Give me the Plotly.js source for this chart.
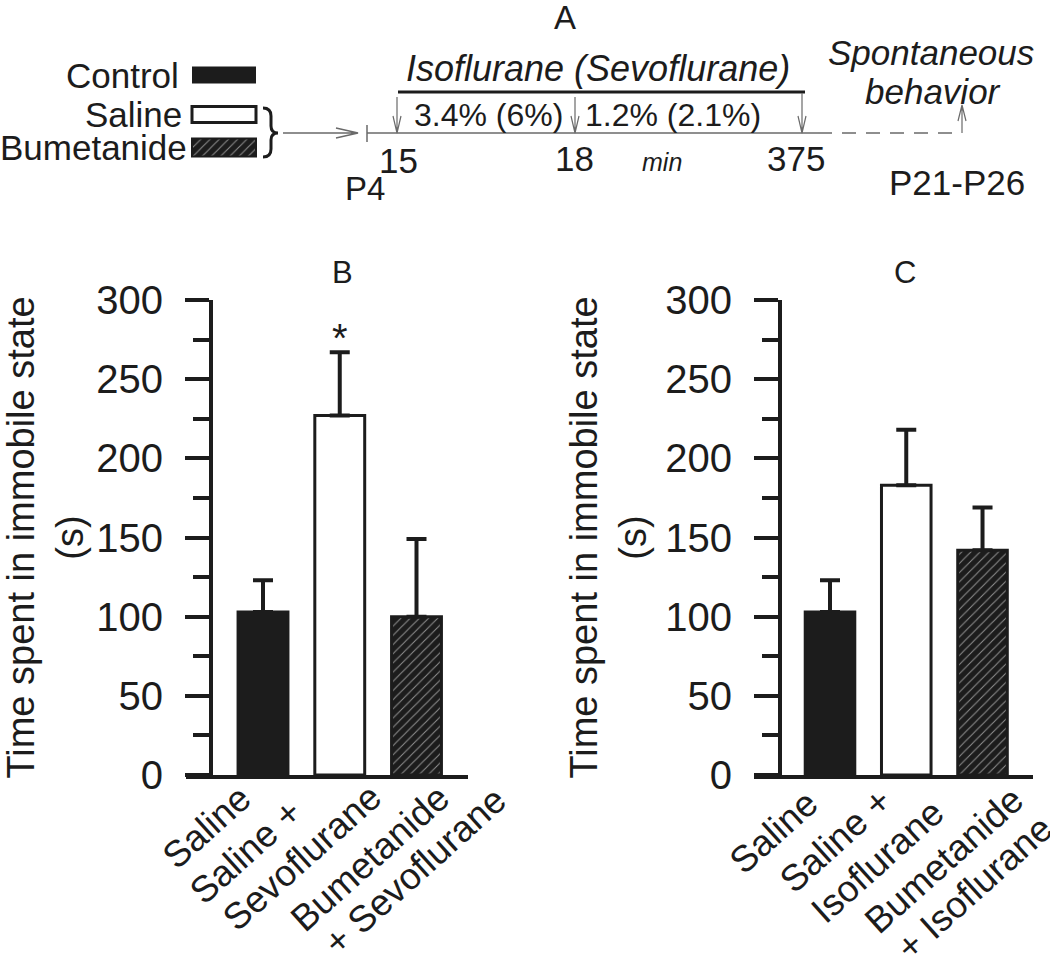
<!DOCTYPE html>
<html><head><meta charset="utf-8">
<script src="https://cdn.plot.ly/plotly-3.0.1.min.js"></script>
<style>html,body{margin:0;padding:0;background:#fff}</style>
</head><body><div id="chart" style="width:1050px;height:960px"></div>
<script>
// ---- data ----
const groupsB = ['Saline', 'Saline +<br>Sevoflurane', 'Bumetanide<br>+ Sevoflurane'];
const meansB = [103, 227, 100];
const semB = [20, 40, 49];
const groupsC = ['Saline', 'Saline +<br>Isoflurane', 'Bumetanide<br>+ Isoflurane'];
const meansC = [103, 183, 142];
const semC = [20, 35, 27];
const yTicks = [0, 50, 100, 150, 200, 250, 300];
const legendLabels = ['Control', 'Saline', 'Bumetanide'];
const timeLabels = ['15', '18', '375'];
const doseLabels = ['3.4% (6%)', '1.2% (2.1%)'];

// ---- layout: centre of each category-label line, px from (tick, axis line) ----
const labelPosB = [[[-57, 52]], [[-94, 76], [-38, 82]], [[-47, 83], [-2, 96]]];
const labelPosC = [[[-57, 57]], [[-71, 65], [-29, 86]], [[-39, 85], [-9, 113]]];

// ---- style ----
const K = '#1c1c1c';
const G = '#6a6a6a';
const FONT = 'Liberation Sans, Arial, sans-serif';
const AXIS_Y = 775, H = 960;
const LABEL_FS = 37, LABEL_ANGLE = 42;
const barColors = [K, '#ffffff', K];
const barPattern = {shape: ['', '', '/'], fillmode: 'overlay', fgcolor: '#ffffff', size: 6.5, solidity: 0.16};

function barTrace(means, sem, xa, ya) {
  return {
    type: 'bar', x: [0, 1, 2], y: means, xaxis: xa, yaxis: ya, width: 0.65,
    marker: {color: barColors, pattern: barPattern, line: {color: K, width: 3}},
    error_y: {type: 'data', array: sem, arrayminus: [0, 0, 0], symmetric: false,
              color: K, thickness: 4, width: 10},
    hoverinfo: 'skip', showlegend: false
  };
}

function yAx(pos) {
  return {
    domain: [1 - 775 / 960, 1 - 300 / 960], range: [0, 300], anchor: 'free', position: pos,
    showline: true, linewidth: 4, linecolor: K, showgrid: false, zeroline: false,
    ticks: 'outside', ticklen: 24, tickwidth: 4, tickcolor: K,
    tickvals: yTicks, ticktext: yTicks.map(String), ticklabelstandoff: 14,
    minor: {dtick: 25, tick0: 0, ticks: 'outside', ticklen: 16, tickwidth: 4, tickcolor: K, showgrid: false},
    tickfont: {family: FONT, size: 40, color: K},
    title: {text: 'Time spent in immobile state<br>(s)', font: {family: FONT, size: 38, color: K}, standoff: 6},
    automargin: false, fixedrange: true
  };
}
function xAx(dom, range, ya) {
  return {
    domain: dom, range: range, anchor: ya, showline: true, linewidth: 4, linecolor: K,
    showgrid: false, zeroline: false, ticks: '', tickvals: [0, 1, 2], showticklabels: false,
    automargin: false, fixedrange: true
  };
}

const traces = [
  barTrace(meansB, semB, 'x', 'y'),
  barTrace(meansC, semC, 'x2', 'y2'),
  // legend swatches in schematic (pixel frame)
  {type: 'bar', orientation: 'h', xaxis: 'x3', yaxis: 'y3',
   y: [75, 114.5, 147.5], x: [64, 64, 64], base: [192, 192, 192], width: [17, 16, 18],
   marker: {color: barColors, pattern: barPattern, line: {color: K, width: [0, 3, 2]}},
   hoverinfo: 'skip', showlegend: false}
];

const ann = [];
function txt(x, y, t, size, opts) {
  ann.push(Object.assign({xref: 'x3', yref: 'y3', x: x, y: y, text: t, showarrow: false,
    font: {family: FONT, size: size, color: K}, xanchor: 'center', yanchor: 'middle'}, opts || {}));
}
// category labels: rotated lines, one annotation per line, centred at its position
function catLabels(groups, pos, xref) {
  groups.forEach(function (g, i) {
    g.split('<br>').forEach(function (line, j) {
      const p = pos[i][j];
      ann.push({xref: xref, yref: 'paper', x: i, y: 1 - (AXIS_Y + p[1]) / H, xshift: p[0],
        text: line, textangle: -LABEL_ANGLE, xanchor: 'center', yanchor: 'middle',
        showarrow: false, font: {family: FONT, size: LABEL_FS, color: K}});
    });
  });
}
catLabels(groupsB, labelPosB, 'x');
catLabels(groupsC, labelPosC, 'x2');

// legend texts
txt(181, 75, legendLabels[0], 35, {xanchor: 'right'});
txt(184, 114, legendLabels[1], 35, {xanchor: 'right'});
txt(189, 147, legendLabels[2], 35, {xanchor: 'right'});
// schematic texts
txt(565, 17, 'A', 33);
txt(598, 68, '<i>Isoflurane (Sevoflurane)</i>', 36);
txt(488, 115, doseLabels[0], 32);
txt(673, 115, doseLabels[1], 32);
txt(398, 160, timeLabels[0], 35);
txt(574, 158, timeLabels[1], 35);
txt(796, 158, timeLabels[2], 35);
txt(662, 162, '<i>min</i>', 25);
txt(365, 188, 'P4', 33);
txt(931, 52, '<i>Spontaneous</i>', 35);
txt(933, 91, '<i>behavior</i>', 35);
txt(957, 182, 'P21-P26', 35);
// panel labels
txt(342, 272, 'B', 31);
txt(905, 272, 'C', 31);
// significance star
ann.push({xref: 'x', yref: 'y', x: 1, y: meansB[1] + semB[1], text: '*', showarrow: false,
  yanchor: 'bottom', yshift: -10, font: {family: FONT, size: 40, color: K}});

const shapes = [];
function path(d, color, width, dash) {
  shapes.push({type: 'path', xref: 'x3', yref: 'y3', path: d,
    line: {color: color, width: width, dash: dash || 'solid'}});
}
// brace
path('M 263 108 Q 271 108 271 116 L 271 126 Q 271 133 278 133 Q 271 133 271 140 L 271 149 Q 271 157 263 157', K, 3);
// arrow into timeline
path('M 283 133 L 358 133 M 336 128 L 358 133 L 336 138', G, 1.5);
// start tick
path('M 367 125 L 367 142', G, 1.5);
// timeline
path('M 367 133 L 818 133', G, 1.5);
path('M 818 133 L 962 133', G, 1.5, '14px,10px');
// thick exposure bar
path('M 398 92 L 805 92', K, 3);
// down arrows
[[397, 97], [575, 97], [802, 93]].forEach(function (p) {
  path('M ' + p[0] + ' ' + p[1] + ' L ' + p[0] + ' 133 M ' + (p[0] - 4) + ' 116 L ' + p[0] + ' 133 L ' + (p[0] + 4) + ' 116', G, 1.2);
});
// up arrow
path('M 962 133 L 962 105 M 958 121 L 962 105 L 966 121', G, 1.2);

const layout = {
  width: 1050, height: 960, margin: {l: 0, r: 0, t: 0, b: 0},
  paper_bgcolor: '#ffffff', plot_bgcolor: 'rgba(0,0,0,0)', showlegend: false,
  font: {family: FONT, color: K},
  xaxis: xAx([186 / 1050, 468 / 1050], [-1.0033, 2.671], 'y'),
  yaxis: yAx(211 / 1050),
  xaxis2: xAx([754 / 1050, 1033 / 1050], [-0.9967, 2.662], 'y2'),
  yaxis2: yAx(780 / 1050),
  xaxis3: {domain: [0, 1], range: [0, 1050], anchor: 'y3', visible: false, fixedrange: true},
  yaxis3: {domain: [0, 1], range: [960, 0], anchor: 'x3', visible: false, fixedrange: true},
  annotations: ann, shapes: shapes
};

Plotly.newPlot('chart', traces, layout, {displayModeBar: false, staticPlot: true});
</script></body></html>
